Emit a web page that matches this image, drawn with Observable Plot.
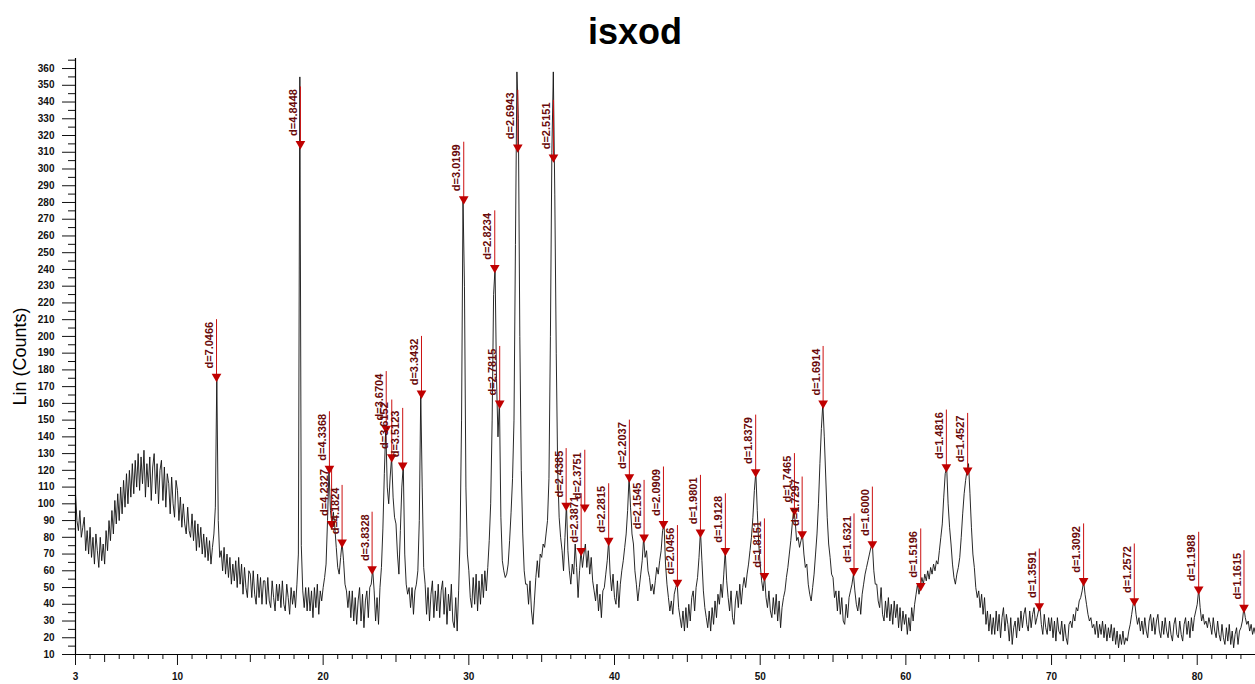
<!DOCTYPE html>
<html><head><meta charset="utf-8">
<script src="https://cdn.jsdelivr.net/npm/d3@7"></script>
<script src="https://cdn.jsdelivr.net/npm/@observablehq/plot@0.6"></script>
<style>
body{margin:0;background:#fff;font-family:"Liberation Sans",Arial,sans-serif;}
#title{box-sizing:border-box;height:50px;padding-top:14px;line-height:36px;font-size:36px;font-weight:bold;text-align:center;width:1255px;padding-left:15px;color:#000;}
#chart svg{display:block;}
</style></head><body>
<div id="title">isxod</div>
<div id="chart"></div>
<script>
// scan: start angle and step (degrees 2θ)
const startAngle = 3.0;
const stepAngle = 0.1;
// counts, one row per degree (x.0 ... x.9)
const counts = [
106,90,84,96,80,86,92,72,84,70,
86,68,80,64,82,72,62,80,66,76,
64,84,72,90,78,96,82,102,88,106,
90,110,94,114,98,118,100,120,104,124,
106,126,110,130,108,128,112,132,104,124,
110,128,102,122,130,106,124,100,120,126,
102,122,98,118,112,94,116,100,92,114,
108,90,104,86,100,88,82,98,84,80,
94,78,90,72,88,74,86,70,82,68,
80,66,78,64,74,82,98,176,90,68,
72,60,74,58,70,56,68,52,64,54,
66,50,68,52,64,46,62,50,44,60,
58,44,60,46,40,58,44,56,40,54,
54,40,56,42,38,54,44,36,52,42,
52,38,54,40,36,52,44,34,50,40,
48,38,52,70,355,75,48,38,50,36,
50,36,48,32,50,38,52,34,48,42,
50,56,64,90,121,96,88,95,86,74,
62,58,68,77,66,52,48,38,48,32,
48,30,44,28,42,50,30,46,26,42,
48,32,50,52,61,48,30,44,28,50,
62,85,118,146,110,100,116,128,104,92,
88,70,58,84,110,123,70,52,46,50,
38,50,34,48,52,60,90,166,110,62,
52,34,50,30,46,54,32,48,36,52,
32,48,54,34,50,28,46,36,52,30,
26,44,24,48,80,150,282,230,110,70,
60,44,38,56,40,58,36,54,40,58,
44,60,48,62,78,100,150,225,241,175,
140,162,92,66,60,56,58,64,78,95,
115,150,255,358,330,200,120,82,60,52,
52,40,54,36,28,42,56,66,56,70,
68,76,74,82,90,115,200,310,358,285,
190,120,92,80,72,60,80,100,72,60,
52,64,58,76,62,44,60,72,62,70,
76,62,72,58,68,54,48,42,52,36,
46,32,48,50,58,66,78,58,48,58,
44,40,54,38,52,60,66,74,82,96,
116,98,82,76,60,52,42,50,58,66,
80,68,72,60,56,48,52,46,54,62,
58,66,72,84,88,64,52,44,36,42,
34,46,50,53,38,32,26,36,24,38,
26,40,30,44,48,36,50,56,68,84,
66,48,38,32,26,36,24,38,28,42,
32,46,40,52,44,58,72,54,44,36,
48,32,28,42,48,38,52,40,50,56,
50,58,64,72,80,92,108,119,96,76,
64,54,48,57,44,38,48,36,32,44,
34,46,30,42,26,38,44,48,56,62,
70,78,88,96,90,78,80,74,78,82,
70,62,64,52,46,42,50,58,70,82,
100,124,145,160,140,116,92,76,68,58,
56,44,48,36,48,34,44,30,28,40,
32,44,48,52,58,48,40,36,44,34,
46,52,58,62,66,70,74,76,60,52,
52,42,38,50,34,30,42,32,44,30,
40,28,42,32,40,26,38,24,36,28,
34,22,32,24,38,30,40,46,52,46,
51,56,52,58,54,60,55,62,58,64,
60,66,64,72,80,88,104,118,122,100,
86,76,64,56,52,58,62,68,80,94,
106,114,120,124,106,86,70,62,50,44,
48,38,46,34,44,28,36,24,34,22,
32,22,36,24,34,20,32,38,24,34,
28,18,32,16,26,30,20,32,24,36,
26,34,38,28,24,36,26,34,38,28,
32,36,39,28,22,34,26,22,32,24,
32,20,30,18,32,24,22,30,18,28,
20,16,28,30,26,34,30,38,36,42,
44,48,54,46,40,34,30,32,26,28,
22,30,20,28,22,30,20,28,18,26,
20,28,18,26,16,24,14,22,16,24,
16,20,18,24,28,34,40,42,34,28,
32,24,30,22,32,24,20,30,34,24,
32,22,30,34,24,20,30,22,32,24,
20,30,22,18,28,32,22,20,30,22,
18,28,32,22,30,20,32,24,32,36,
40,49,38,30,34,28,30,26,32,28,
22,32,24,20,30,22,18,28,20,16,
26,18,28,16,24,14,22,26,16,24,
26,30,38,32,28,30,24,28,22,26,
22
];

// peak markers (2θ, counts at marker, label)
const peakAngles = [12.68,18.44,20.43,20.58,21.30,23.36,24.33,24.71,25.46,26.75,29.65,31.78,32.12,33.36,35.81,36.68,37.71,37.96,39.60,41.02,42.03,43.36,44.32,45.90,47.61,49.69,50.29,52.35,52.88,54.32,56.44,57.70,61.02,62.78,64.24,69.16,72.20,75.68,80.10,83.21];
const peakCounts = [176,315,121,88,77,61,145,128,123,166,282,241,160,313,307,99,72,98,78,116,80,88,53,83,72,119,57,96,82,160,60,76,51,122,120,39,54,42,49,38];
const peakLabels = ["d=7.0466","d=4.8448","d=4.3368","d=4.2327","d=4.1824","d=3.8328","d=3.6704","d=3.6152","d=3.5123","d=3.3432","d=3.0199","d=2.8234","d=2.7815","d=2.6943","d=2.5151","d=2.4385","d=2.3871","d=2.3751","d=2.2815","d=2.2037","d=2.1545","d=2.0909","d=2.0456","d=1.9801","d=1.9128","d=1.8379","d=1.8151","d=1.7465","d=1.7297","d=1.6914","d=1.6321","d=1.6000","d=1.5196","d=1.4816","d=1.4527","d=1.3591","d=1.3092","d=1.2572","d=1.1988","d=1.1615"];

// axis tick labels
const xTickLabels = [3,10,20,30,40,50,60,70,80];
const yTickLabels = [10,20,30,40,50,60,70,80,90,100,110,120,130,140,150,160,170,180,190,200,210,220,230,240,250,260,270,280,290,300,310,320,330,340,350,360];
const yAxisTitle = "Lin (Counts)";

const pattern = counts.map((c, i) => ({angle: +(startAngle + i * stepAngle).toFixed(2), count: c}));
const peaks = peakAngles.map((a, i) => ({angle: a, count: peakCounts[i], label: peakLabels[i]}));

const xMinor = d3.range(4, 84, 1).filter(v => v % 5 !== 0);
const xFives = d3.range(5, 84, 10);
const yMinor = d3.range(15, 366, 10);
const leaderLen = 34; // counts

const chart = Plot.plot({
  width: 1255,
  height: 634,
  marginLeft: 75,
  marginRight: 0,
  marginTop: 8,
  marginBottom: 30,
  x: {domain: [3, 84]},
  y: {domain: [10, 366]},
  style: {fontFamily: "'Liberation Sans', Arial, sans-serif", color: "#111", background: "#fff"},
  marks: [
    Plot.line(pattern, {x: "angle", y: "count", stroke: "#111", strokeWidth: 0.9}),
    Plot.ruleX(peaks, {x: "angle", y1: "count", y2: d => d.count + leaderLen, stroke: "#cc1111", strokeWidth: 1}),
    Plot.dot(peaks, {x: "angle", y: "count", symbol: "triangle", rotate: 180, r: 3.6, fill: "#c00000", stroke: "none"}),
    Plot.text(peaks, {x: "angle", y: "count", text: "label", rotate: -90, textAnchor: "start", dx: -7, dy: -8, fontSize: 11, fontWeight: "bold", fill: "#6a0a0a"}),
    // axes
    Plot.axisX(xMinor, {tickSize: 5, tickFormat: () => "", label: null}),
    Plot.axisX(xFives, {tickSize: 8, tickFormat: () => "", label: null}),
    Plot.axisX(xTickLabels, {tickSize: 11, tickPadding: 7, fontSize: 10, fontWeight: "bold", label: null}),
    Plot.axisY(yMinor, {tickSize: 7, tickFormat: () => "", label: null}),
    Plot.axisY(yTickLabels, {tickSize: 13, tickPadding: 8, fontSize: 10, fontWeight: "bold", label: null}),
    Plot.ruleX([3], {stroke: "#000", strokeWidth: 1.2}),
    Plot.ruleY([10], {stroke: "#000", strokeWidth: 1.2}),
    Plot.text([yAxisTitle], {frameAnchor: "left", rotate: -90, dx: -55, textAnchor: "middle", text: d => d, fontSize: 18, fill: "#000"})
  ]
});
document.getElementById("chart").appendChild(chart);
</script>
</body></html>
